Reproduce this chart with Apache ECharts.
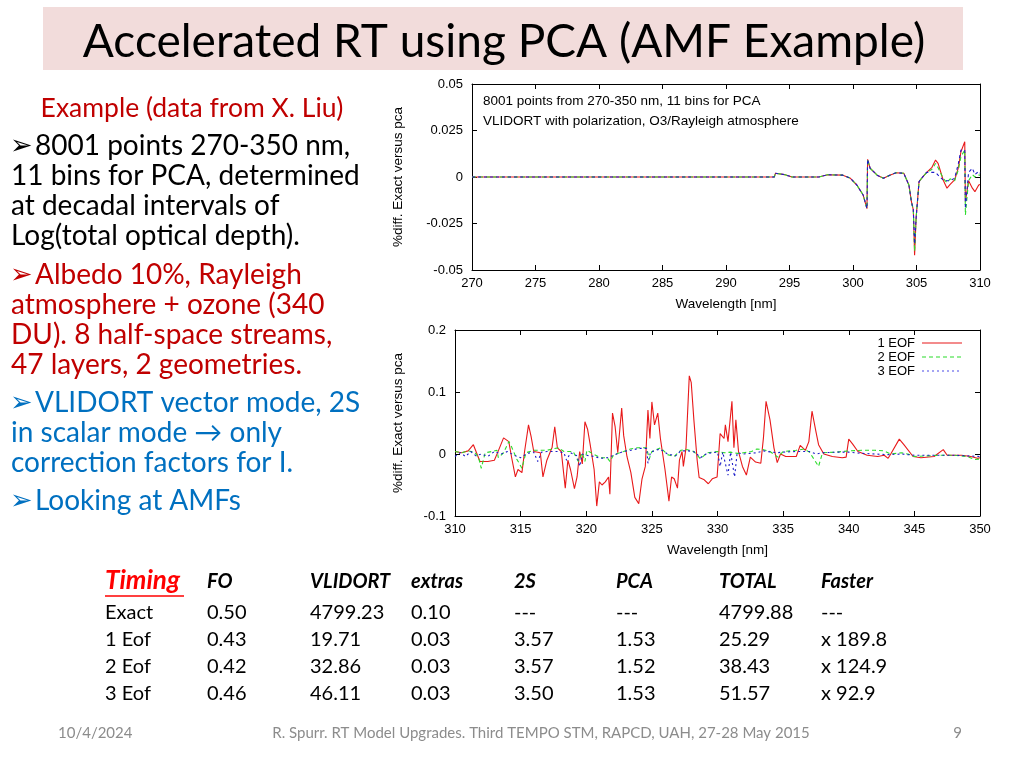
<!DOCTYPE html>
<html>
<head>
<meta charset="utf-8">
<script src="https://cdn.jsdelivr.net/npm/echarts@6/dist/echarts.min.js"></script>
<style>
html,body{margin:0;padding:0;background:#fff;}
#chart{width:1024px;height:768px;}
</style>
</head>
<body>
<div id="chart"></div>
<script>
// ---------- DATA ----------
// Top panel: 270-310 nm, %diff exact vs PCA (1,2,3 EOF)
var topX     = [270, 275, 280, 285, 290, 293.8, 293.9, 294.6, 295.2, 297.3, 298.0, 299.2, 299.8, 300.3, 300.8, 301.1, 301.15, 301.35, 301.9, 302.4, 302.9, 303.4, 304.0, 304.4, 304.6, 304.75, 304.85, 304.97, 305.2, 305.4, 305.8, 306.2, 306.5, 306.7, 307.1, 307.4, 307.65, 308.0, 308.3, 308.5, 308.8, 308.85, 309.1, 309.4, 309.6, 309.9, 310];
var topRed   = [0, 0, 0, 0, 0, 0, 0.002, 0.0013, 0, 0, 0.0012, 0.001, -0.0007, -0.0043, -0.0097, -0.017, 0.0095, 0.0047, 0.001, -0.0007, 0.001, 0.0023, 0.002, -0.0043, -0.0133, -0.0177, -0.042, -0.022, -0.0025, -0.0007, 0.0025, 0.005, 0.0091, 0.0073, -0.0016, -0.006, -0.004, -0.0016, 0.005, 0.0136, 0.019, -0.0133, -0.002, -0.006, -0.0079, -0.0043, -0.004];
var topGreen = [0, 0, 0, 0, 0, 0, 0.002, 0.0013, 0, 0, 0.0012, 0.001, -0.0007, -0.0043, -0.0097, -0.017, 0.0095, 0.0047, 0.001, -0.0007, 0.001, 0.0023, 0.002, -0.0043, -0.0133, -0.0177, -0.040, -0.022, -0.0025, -0.0007, 0.0025, 0.004, 0.0073, 0.005, -0.0007, -0.003, -0.001, -0.002, 0.004, 0.011, 0.0145, -0.0204, -0.002, 0.0013, 0, 0.001, 0.001];
var topBlue  = [0, 0, 0, 0, 0, 0, 0.002, 0.0013, 0, 0, 0.0012, 0.001, -0.0007, -0.0043, -0.0097, -0.017, 0.0095, 0.0047, 0.001, -0.0007, 0.001, 0.0023, 0.002, -0.0043, -0.0133, -0.0177, -0.036, -0.022, -0.0025, -0.0007, 0.0025, 0.0025, 0.0025, 0.001, -0.0016, -0.002, -0.002, -0.0007, 0.0073, 0.0145, 0.0145, -0.017, 0.0025, 0.0047, 0.0013, 0.003, 0.002];

// Bottom panel: 310-350 nm
var botRedX = [310.0, 310.5, 311.0, 311.4, 311.9, 312.5, 313.0, 313.3, 313.7, 314.1, 314.3, 314.6, 314.8, 315.1, 315.3, 315.6, 315.8, 316.0, 316.5, 316.7, 317.0, 317.4, 317.6, 317.8, 318.1, 318.4, 318.6, 318.8, 319.1, 319.3, 319.5, 319.7, 319.9, 320.1, 320.3, 320.6, 320.8, 321.0, 321.2, 321.45, 321.7, 321.8, 322.0, 322.2, 322.4, 322.7, 322.85, 323.1, 323.4, 323.7, 324.0, 324.25, 324.5, 324.7, 324.85, 325.0, 325.2, 325.45, 325.65, 326.0, 326.3, 326.5, 326.7, 326.95, 327.1, 327.3, 327.4, 327.6, 327.85, 328.0, 328.2, 328.45, 328.6, 328.95, 329.3, 329.6, 329.97, 330.2, 330.5, 330.6, 330.8, 331.1, 331.25, 331.4, 331.6, 331.9, 332.2, 332.5, 332.9, 333.3, 333.5, 333.7, 334.0, 334.3, 334.55, 334.8, 335.2, 336.0, 336.3, 336.7, 336.96, 337.2, 337.5, 337.7, 338.1, 338.75, 339.5, 339.8, 340.0, 340.3, 340.7, 341.4, 342.2, 342.7, 343.0, 343.2, 343.85, 344.2, 344.9, 345.5, 346.5, 347.2, 347.5, 348.6, 349.3, 349.8, 350.0];
var botRed  = [0.004, 0.002, 0.005, 0.015, -0.012, -0.012, -0.010, 0.005, 0.026, 0.020, -0.004, -0.037, -0.025, -0.030, 0.004, 0.047, 0.028, 0.004, 0.002, -0.037, -0.010, 0.011, 0.044, 0.010, 0.004, -0.055, -0.010, -0.025, -0.056, -0.037, 0.004, -0.016, 0.052, 0.040, 0.015, -0.025, -0.084, -0.045, -0.050, -0.045, -0.037, -0.065, 0.066, 0.044, 0.002, 0.074, 0.030, -0.004, -0.030, -0.070, -0.080, -0.040, -0.020, 0.071, 0.025, 0.084, 0.047, 0.066, 0.025, -0.025, -0.076, -0.037, -0.040, -0.055, -0.010, 0.004, -0.020, 0.010, 0.126, 0.115, 0.055, -0.010, -0.038, -0.041, -0.048, -0.040, -0.037, 0.033, 0.025, 0.047, 0.020, 0.085, 0.010, 0.055, 0.004, -0.020, -0.034, -0.005, -0.013, -0.015, 0.026, 0.085, 0.055, 0.010, -0.014, 0.0, -0.004, -0.004, 0.014, 0.006, 0.020, 0.069, 0.036, 0.015, 0.0, -0.004, -0.006, -0.005, 0.024, 0.016, 0.004, -0.002, -0.004, -0.002, -0.007, 0.0, 0.024, 0.015, -0.004, -0.006, -0.004, 0.007, -0.002, -0.002, -0.004, -0.007, -0.006];

var botGreenX = [310.0, 310.5, 311.0, 311.5, 311.8, 312.0, 312.3, 312.8, 313.2, 313.3, 313.7, 314.1, 314.3, 314.7, 315.1, 315.4, 316.0, 317.0, 317.6, 317.9, 318.3, 319.0, 319.4, 319.7, 319.9, 320.05, 320.6, 321.1, 321.6, 321.8, 322.1, 322.85, 323.35, 323.9, 324.6, 324.8, 325.0, 325.65, 326.2, 326.7, 327.2, 327.7, 328.2, 328.7, 329.2, 330.0, 330.5, 331.0, 331.5, 332.0, 332.6, 333.0, 333.5, 334.0, 334.6, 335.0, 336.0, 336.6, 337.0, 337.4, 337.7, 338.0, 339.0, 340.0, 341.0, 342.0, 342.7, 343.2, 344.0, 344.5, 345.0, 346.0, 347.0, 348.0, 349.0, 349.6, 350.0];
var botGreen  = [0.004, 0.002, 0.005, 0.003, -0.006, -0.023, 0.002, 0.004, 0.006, -0.006, 0.002, 0.020, 0.012, -0.008, -0.023, 0.002, 0.006, 0.006, 0.009, 0.010, 0.004, 0.004, -0.012, 0.002, -0.012, 0.006, -0.001, -0.006, -0.006, -0.012, -0.001, 0.004, 0.008, 0.010, 0.010, -0.008, 0.004, 0.010, -0.001, -0.004, 0.006, 0.007, 0.004, -0.008, 0.002, 0.004, 0.002, 0.003, 0.001, 0.002, 0.004, 0.008, 0.007, 0.004, -0.005, 0.004, 0.006, 0.008, 0.003, -0.010, -0.020, 0.002, 0.003, 0.005, 0.006, 0.006, 0.005, 0.0, 0.002, 0.0, -0.004, -0.003, -0.002, -0.002, -0.004, -0.009, -0.008];

var botBlueX = [310.0, 310.4, 310.8, 311.2, 311.6, 312.0, 312.5, 313.0, 313.5, 314.0, 314.5, 315.0, 315.5, 316.0, 316.3, 316.6, 317.0, 317.8, 318.3, 318.5, 318.8, 319.3, 319.5, 319.7, 320.0, 320.6, 321.1, 321.6, 322.1, 322.8, 323.4, 324.0, 324.6, 324.7, 324.9, 325.6, 326.2, 326.8, 327.2, 327.8, 328.3, 328.7, 329.2, 330.0, 330.2, 330.4, 330.8, 331.0, 331.3, 331.5, 332.0, 333.0, 333.5, 334.5, 335.0, 336.0, 337.0, 337.5, 338.0, 339.0, 340.0, 341.0, 342.0, 343.0, 344.0, 345.0, 346.0, 348.0, 349.0, 350.0];
var botBlue  = [-0.004, 0.002, -0.004, 0.004, -0.003, 0.0, -0.004, 0.004, 0.0, 0.004, -0.002, -0.006, 0.001, 0.003, -0.012, 0.003, 0.004, 0.004, 0.002, -0.010, 0.002, -0.003, -0.020, 0.0, -0.002, -0.004, -0.007, -0.006, -0.002, 0.004, 0.006, 0.009, 0.009, -0.015, 0.003, 0.008, 0.0, -0.003, 0.005, 0.005, 0.003, -0.006, 0.001, 0.003, -0.020, 0.003, -0.034, 0.003, -0.037, 0.002, 0.0, 0.002, 0.005, 0.002, 0.003, 0.004, 0.004, 0.0, 0.002, 0.003, 0.003, 0.001, 0.0, -0.001, 0.0, -0.002, -0.002, -0.002, -0.003, -0.004];

var seriesNames = ['1 EOF', '2 EOF', '3 EOF'];
var topXTicks = {min: 270, max: 310, step: 5};
var topYTicks = {min: -0.05, max: 0.05, step: 0.025};
var botXTicks = {min: 310, max: 350, step: 5};
var botYTicks = {min: -0.1, max: 0.2, step: 0.1};

// Slide texts
var slideTitle = 'Accelerated RT using PCA (AMF Example)';
var subHeading = 'Example (data from X. Liu)';
var blackLines = ['8001 points 270-350 nm,', '11 bins for PCA, determined', 'at decadal intervals of', 'Log(total optical depth).'];
var redLines = ['Albedo 10%, Rayleigh', 'atmosphere + ozone (340', 'DU). 8 half-space streams,', '47 layers, 2 geometries.'];
var blueLines = ['VLIDORT vector mode, 2S', 'in scalar mode \u2192 only', 'correction factors for I.'];
var blueLast = 'Looking at AMFs';
var panelNote = ['8001 points from 270-350 nm, 11 bins for PCA', 'VLIDORT with polarization, O3/Rayleigh atmosphere'];
var tableHeader = ['Timing', 'FO', 'VLIDORT', 'extras', '2S', 'PCA', 'TOTAL', 'Faster'];
var tableRows = [
  ['Exact', '0.50', '4799.23', '0.10', '---', '---', '4799.88', '---'],
  ['1 Eof', '0.43', '19.71', '0.03', '3.57', '1.53', '25.29', 'x 189.8'],
  ['2 Eof', '0.42', '32.86', '0.03', '3.57', '1.52', '38.43', 'x 124.9'],
  ['3 Eof', '0.46', '46.11', '0.03', '3.50', '1.53', '51.57', 'x 92.9']
];
var footer = ['10/4/2024', 'R. Spurr. RT Model Upgrades. Third TEMPO STM, RAPCD, UAH, 27-28 May 2015', '9'];

// ---------- BUILD ----------
function zip(xs, ys) { return xs.map(function (x, i) { return [x, ys[i]]; }); }

var FONT = 'Lato, "DejaVu Sans", sans-serif';
var PLOTFONT = '"Liberation Sans", Arial, sans-serif';
var RED = '#e8191a', GREEN = '#2bdc2b', BLUE = '#1c1cc8';
var LEG_BLUE = '#4a4ae8';

function xAxisPair(grid, t) {
  var base = {
    type: 'value', gridIndex: grid, min: t.min, max: t.max, interval: t.step,
    axisLine: {show: true, onZero: false, lineStyle: {color: '#000', width: 1}},
    axisTick: {show: true, inside: true, length: 5, lineStyle: {color: '#000'}},
    splitLine: {show: false}
  };
  var bottom = Object.assign({}, base, {
    position: 'bottom',
    axisLabel: {color: '#000', fontSize: 13, fontFamily: PLOTFONT, margin: 7},
    name: 'Wavelength [nm]', nameLocation: 'middle', nameGap: 27,
    nameTextStyle: {color: '#000', fontSize: 13.5, fontFamily: PLOTFONT}
  });
  var top = Object.assign({}, base, {position: 'top', axisLabel: {show: false}});
  return [bottom, top];
}
function yAxisPair(grid, t, gap) {
  var base = {
    type: 'value', gridIndex: grid, min: t.min, max: t.max, interval: t.step,
    axisLine: {show: true, onZero: false, lineStyle: {color: '#000', width: 1}},
    axisTick: {show: true, inside: true, length: 5, lineStyle: {color: '#000'}},
    splitLine: {show: false}
  };
  var left = Object.assign({}, base, {
    position: 'left',
    axisLabel: {color: '#000', fontSize: 13, fontFamily: PLOTFONT, margin: 9},
    name: '%diff. Exact versus pca', nameLocation: 'middle', nameGap: gap,
    nameTextStyle: {color: '#000', fontSize: 13.5, fontFamily: PLOTFONT}
  });
  var right = Object.assign({}, base, {position: 'right', axisLabel: {show: false}});
  return [left, right];
}

var xA = xAxisPair(0, topXTicks).concat(xAxisPair(1, botXTicks));
var yA = yAxisPair(0, topYTicks, 67).concat(yAxisPair(1, botYTicks, 50));

function line(name, data, xi, yi, color, type, z) {
  return {
    name: name, type: 'line', xAxisIndex: xi, yAxisIndex: yi, data: data,
    showSymbol: false, symbol: 'none', animation: false, z: z,
    lineStyle: {color: color, width: 1.1, type: type}, itemStyle: {color: color}
  };
}

var series = [
  line(seriesNames[0], zip(topX, topRed), 0, 0, RED, 'solid', 2),
  line(seriesNames[1], zip(topX, topGreen), 0, 0, GREEN, [4, 3], 3),
  line(seriesNames[2], zip(topX, topBlue), 0, 0, BLUE, [3, 3], 4),
  line(seriesNames[0], zip(botRedX, botRed), 2, 2, RED, 'solid', 2),
  line(seriesNames[1], zip(botGreenX, botGreen), 2, 2, GREEN, [4, 3], 3),
  line(seriesNames[2], zip(botBlueX, botBlue), 2, 2, BLUE, [2, 3], 4)
];

var g = [];
// title band
g.push({type: 'rect', shape: {x: 43, y: 7, width: 920, height: 63}, style: {fill: '#f2dcdb'}, z: 1});
g.push({type: 'text', x: 504, y: 42, style: {text: slideTitle, font: '46px ' + FONT, fill: '#000', textAlign: 'center', textVerticalAlign: 'middle'}, z: 2});
// left text
g.push({type: 'text', x: 192, y: 108, style: {text: subHeading, font: '26.5px ' + FONT, fill: '#c00000', textAlign: 'center', textVerticalAlign: 'middle'}});
function bullet(y, color) {
  g.push({type: 'text', x: 10, y: y + 1, style: {text: '\u27A2', font: '27px "DejaVu Sans"', fill: color, textAlign: 'left', textVerticalAlign: 'middle'}});
}
function para(lines, y0, color) {
  lines.forEach(function (s, i) {
    g.push({type: 'text', x: i === 0 ? 35 : 11, y: y0 + i * 30, style: {text: s, font: '28px ' + FONT, fill: color, textAlign: 'left', textVerticalAlign: 'middle'}});
  });
}
bullet(146, '#000'); para(blackLines, 146, '#000');
bullet(275, '#c00000'); para(redLines, 275, '#c00000');
bullet(403, '#0070c0'); para(blueLines, 403, '#0070c0');
bullet(501, '#0070c0'); para([blueLast], 501, '#0070c0');
// panel annotation
panelNote.forEach(function (s, i) {
  g.push({type: 'text', x: 483, y: 101 + i * 20, style: {text: s, font: '13.5px ' + PLOTFONT, fill: '#000', textAlign: 'left', textVerticalAlign: 'middle'}});
});
// legend of bottom panel (gnuplot style: label then sample line)
var legColors = [RED, GREEN, LEG_BLUE];
var legDash = [null, [4, 3], [2, 3]];
seriesNames.forEach(function (s, i) {
  var y = 343 + i * 14;
  g.push({type: 'text', x: 915, y: y, style: {text: s, font: '13px ' + PLOTFONT, fill: '#000', textAlign: 'right', textVerticalAlign: 'middle'}});
  g.push({type: 'line', shape: {x1: 922, y1: y, x2: 962, y2: y}, style: {stroke: legColors[i], lineWidth: 1.2, lineDash: legDash[i]}});
});
// table
var colX = [105, 207, 310, 411, 514, 616, 719, 821];
tableHeader.forEach(function (s, i) {
  var isT = i === 0;
  g.push({type: 'text', x: colX[i], y: isT ? 581 : 582, style: {text: s, font: (isT ? 'italic bold 26px ' : 'italic bold 20px ') + FONT, fill: isT ? '#ff0000' : '#000', textAlign: 'left', textVerticalAlign: 'middle'}});
});
g.push({type: 'line', shape: {x1: 105, y1: 596, x2: 184, y2: 596}, style: {stroke: '#ff0000', lineWidth: 1.5}});
tableRows.forEach(function (row, r) {
  row.forEach(function (s, i) {
    g.push({type: 'text', x: colX[i], y: 613 + r * 27, style: {text: s, font: '20px ' + FONT, fill: '#000', textAlign: 'left', textVerticalAlign: 'middle'}});
  });
});
// footer
g.push({type: 'text', x: 58, y: 733, style: {text: footer[0], font: '15px ' + FONT, fill: '#8c8c8c', textAlign: 'left', textVerticalAlign: 'middle'}});
g.push({type: 'text', x: 541, y: 733, style: {text: footer[1], font: '15px ' + FONT, fill: '#8c8c8c', textAlign: 'center', textVerticalAlign: 'middle'}});
g.push({type: 'text', x: 962, y: 733, style: {text: footer[2], font: '15px ' + FONT, fill: '#8c8c8c', textAlign: 'right', textVerticalAlign: 'middle'}});

var option = {
  backgroundColor: '#fff',
  animation: false,
  grid: [
    {left: 472, top: 84, width: 508, height: 186, show: false},
    {left: 455, top: 330, width: 525, height: 186, show: false}
  ],
  xAxis: xA,
  yAxis: yA,
  series: series,
  graphic: {elements: g}
};

var chart = echarts.init(document.getElementById('chart'), null, {renderer: 'canvas'});
chart.setOption(option);
</script>
</body>
</html>
